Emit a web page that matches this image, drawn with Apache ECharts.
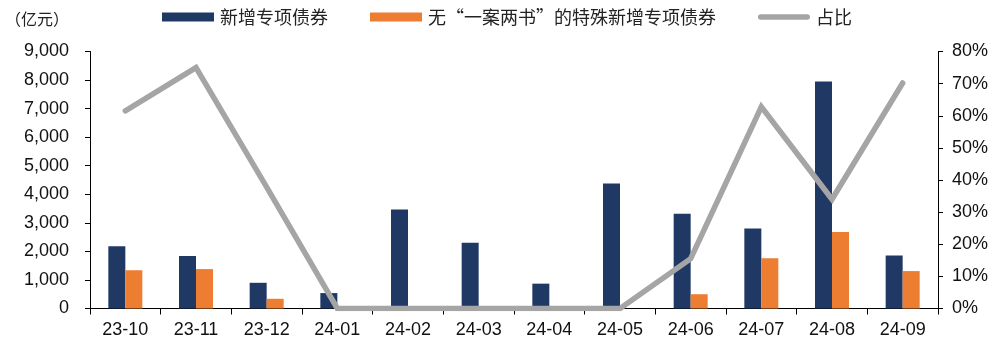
<!DOCTYPE html>
<html>
<head>
<meta charset="utf-8">
<script src="https://cdn.jsdelivr.net/npm/echarts@6/dist/echarts.min.js"></script>
<style>
html,body{margin:0;padding:0;background:#fff;}
#c{width:999px;height:343px;}
</style>
</head>
<body>
<div id="c"></div>
<script>
const categories = ['23-10','23-11','23-12','24-01','24-02','24-03','24-04','24-05','24-06','24-07','24-08','24-09'];
const newSpecialBonds = [2180, 1840, 900, 540, 3470, 2300, 870, 4380, 3320, 2800, 7950, 1860];
const specialWithoutPlans = [1340, 1380, 340, 0, 0, 0, 0, 0, 500, 1760, 2680, 1310];
const ratioPct = [61.5, 75, 37.8, 0, 0, 0, 0, 0, 15.5, 62.8, 34, 70.2];
const leftTicks = [0, 9000, 1000];
const rightTicks = [0, 80, 10];
const seriesNames = ['新增专项债券', '无“一案两书”的特殊新增专项债券', '占比'];

const chart = echarts.init(document.getElementById('c'), null, {renderer: 'canvas'});
const latin = '"Liberation Sans", Arial, sans-serif';
const cjk = '"Noto Sans CJK SC", sans-serif';
const axisColor = '#000';

chart.setOption({
  animation: false,
  backgroundColor: '#fff',
  title: {
    text: '（亿元）',
    left: 5,
    top: 11,
    padding: 0,
    textStyle: {fontFamily: cjk, fontSize: 16, fontWeight: 'normal', color: '#222'}
  },
  legend: {
    left: 162,
    top: 8,
    padding: 0,
    itemWidth: 52,
    itemHeight: 9,
    itemGap: 42,
    textStyle: {fontFamily: cjk, fontSize: 18, color: '#222', padding: [0,0,0,1]},
    data: [
      {name: seriesNames[0], icon: 'rect'},
      {name: seriesNames[1], icon: 'rect'},
      {name: seriesNames[2], icon: 'path://M3,0 L53,0 A3,3 0 0 1 53,6 L3,6 A3,3 0 0 1 3,0 Z'}
    ]
  },
  grid: {left: 90, right: 61, top: 51.5, bottom: 34.5, containLabel: false},
  xAxis: {
    type: 'category',
    data: categories,
    axisLine: {lineStyle: {color: axisColor, width: 1}},
    axisTick: {show: true, alignWithLabel: false, length: 6, lineStyle: {color: axisColor}},
    axisLabel: {fontFamily: latin, fontSize: 18, color: '#111', margin: 13, interval: 0}
  },
  yAxis: [
    {
      type: 'value',
      min: leftTicks[0], max: leftTicks[1], interval: leftTicks[2],
      splitLine: {show: false},
      axisLine: {show: true, lineStyle: {color: axisColor}},
      axisTick: {show: true, length: 5, lineStyle: {color: axisColor}},
      axisLabel: {
        fontFamily: latin, fontSize: 18, color: '#111', margin: 21,
        formatter: v => v.toLocaleString('en-US')
      }
    },
    {
      type: 'value',
      min: rightTicks[0], max: rightTicks[1], interval: rightTicks[2],
      splitLine: {show: false},
      axisLine: {show: true, lineStyle: {color: axisColor}},
      axisTick: {show: true, length: 5, lineStyle: {color: axisColor}},
      axisLabel: {
        fontFamily: latin, fontSize: 18, color: '#111', margin: 14,
        formatter: v => v + '%'
      }
    }
  ],
  series: [
    {
      name: seriesNames[0], type: 'bar', data: newSpecialBonds,
      barWidth: 17, barGap: '0%',
      itemStyle: {color: '#203864'}
    },
    {
      name: seriesNames[1], type: 'bar', data: specialWithoutPlans,
      barWidth: 17, barGap: '0%',
      itemStyle: {color: '#ed7d31'}
    },
    {
      name: seriesNames[2], type: 'line', yAxisIndex: 1, data: ratioPct,
      symbol: 'none',
      lineStyle: {color: '#a5a5a5', width: 5.5, cap: 'round', join: 'miter'},
      itemStyle: {color: '#a5a5a5'},
      z: 5
    }
  ]
});
</script>
</body>
</html>
